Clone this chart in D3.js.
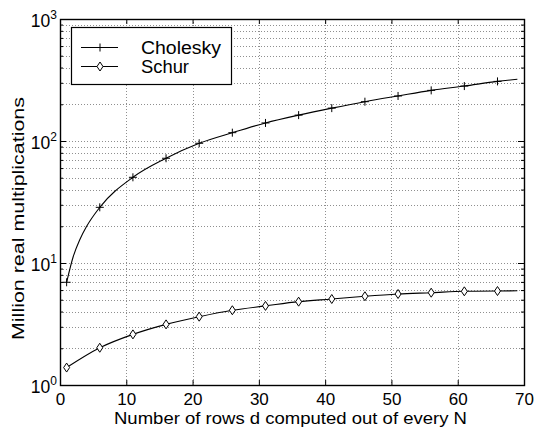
<!DOCTYPE html>
<html>
<head>
<meta charset="utf-8">
<script src="https://cdn.jsdelivr.net/npm/d3@7"></script>
<style>
  body { margin: 0; background: #fff; }
  svg { display: block; font-family: "Liberation Sans", Arial, Helvetica, sans-serif; }
</style>
</head>
<body>
<svg></svg>
<script>
const width = 536;
const height = 427;

// rows d computed out of every N; markers sit at d = 1, 6, 11, ... and the lines end at d = 69
const cholD = [1, 2, 3, 4, 6, 11, 16, 21, 26, 31, 36, 41, 46, 51, 56, 61, 66, 69];
const cholesky = [6.95, 11.3, 15.6, 19.9, 28.6, 50.4, 72.2, 95.8, 117, 140.6, 163, 186, 210, 234, 260, 282, 308, 321];
const schurD = [1, 6, 11, 16, 21, 26, 31, 36, 41, 46, 51, 56, 61, 66, 69];
const schur = [1.39, 2.02, 2.6, 3.14, 3.63, 4.1, 4.45, 4.82, 5.07, 5.34, 5.57, 5.71, 5.86, 5.89, 5.93];
const markerD = [1, 6, 11, 16, 21, 26, 31, 36, 41, 46, 51, 56, 61, 66];
const xTicks = [0, 10, 20, 30, 40, 50, 60, 70];
const yDecades = [1, 10, 100, 1000];
const legendNames = ["Cholesky", "Schur"];

const plotL = 60, plotR = 524, plotT = 19, plotB = 385;

const svg = d3.select("svg").attr("width", width).attr("height", height);

const xScale = d3.scaleLinear().domain([0, 70]).range([plotL, plotR]);
const yScale = d3.scaleLog().domain([1, 1000]).range([plotB, plotT]);

const yMinor = yScale.ticks().filter(v => !yDecades.includes(v));

// grid
const grid = svg.append("g").attr("stroke", "#8f8f8f").attr("stroke-width", 1).attr("stroke-dasharray", "1,2");
grid.selectAll(".gx").data(xTicks.slice(1, -1)).join("line")
  .attr("x1", d => Math.round(xScale(d)) + 0.5).attr("x2", d => Math.round(xScale(d)) + 0.5)
  .attr("y1", plotT).attr("y2", plotB);
grid.selectAll(".gy").data(yScale.ticks().filter(v => v > 1 && v < 1000)).join("line")
  .attr("x1", plotL).attr("x2", plotR)
  .attr("y1", d => Math.round(yScale(d)) + 0.5).attr("y2", d => Math.round(yScale(d)) + 0.5);

// axes (inward ticks, box all round)
const fmtNone = () => "";
svg.append("g").attr("transform", `translate(0,${plotB})`)
  .call(d3.axisBottom(xScale).tickValues(xTicks).tickSizeInner(-5).tickSizeOuter(0).tickPadding(8))
  .call(g => g.select(".domain").remove())
  .call(g => g.selectAll("text").attr("font-size", 17).attr("fill", "#000").attr("font-family", null));
svg.append("g").attr("transform", `translate(0,${plotT})`)
  .call(d3.axisTop(xScale).tickValues(xTicks).tickSizeInner(-5).tickSizeOuter(0).tickFormat(fmtNone))
  .call(g => g.select(".domain").remove());

const yAxisL = svg.append("g").attr("transform", `translate(${plotL},0)`)
  .call(d3.axisLeft(yScale).tickValues(yDecades).tickSizeInner(-6).tickSizeOuter(0).tickPadding(3).tickFormat(() => "10"))
  .call(g => g.select(".domain").remove());
yAxisL.selectAll("text").attr("font-size", 17.5).attr("fill", "#000").attr("font-family", null)
  .attr("dy", "0.42em")
  .append("tspan").attr("dy", -8).attr("font-size", 12).text(d => Math.round(Math.log10(d)));
svg.append("g").attr("transform", `translate(${plotL},0)`)
  .call(d3.axisLeft(yScale).tickValues(yMinor).tickSizeInner(-3).tickSizeOuter(0).tickFormat(fmtNone))
  .call(g => g.select(".domain").remove());
svg.append("g").attr("transform", `translate(${plotR},0)`)
  .call(d3.axisRight(yScale).tickValues(yDecades).tickSizeInner(-6).tickSizeOuter(0).tickFormat(fmtNone))
  .call(g => g.select(".domain").remove());
svg.append("g").attr("transform", `translate(${plotR},0)`)
  .call(d3.axisRight(yScale).tickValues(yMinor).tickSizeInner(-3).tickSizeOuter(0).tickFormat(fmtNone))
  .call(g => g.select(".domain").remove());

svg.append("rect").attr("x", plotL + 0.5).attr("y", plotT + 0.5)
  .attr("width", plotR - plotL).attr("height", plotB - plotT)
  .attr("fill", "none").attr("stroke", "#000").attr("stroke-width", 1.4);

// series
const line = d3.line().x(d => xScale(d[0])).y(d => yScale(d[1])).curve(d3.curveMonotoneX);
const series = [
  { name: "Cholesky", xs: cholD, values: cholesky, marker: "plus" },
  { name: "Schur", xs: schurD, values: schur, marker: "diamond" }
];

function drawMarker(g, type) {
  if (type === "plus") {
    g.append("path").attr("d", "M-4,0H4M0,-4V4").attr("stroke", "#000").attr("stroke-width", 1).attr("fill", "none");
  } else {
    g.append("path").attr("d", "M0,-4.5L3,0L0,4.5L-3,0Z").attr("stroke", "#000").attr("stroke-width", 1).attr("fill", "#fff");
  }
}

series.forEach(s => {
  const pts = s.xs.map((d, i) => [d, s.values[i]]);
  svg.append("path").datum(pts).attr("d", line)
    .attr("fill", "none").attr("stroke", "#000").attr("stroke-width", 1.1);
  svg.selectAll(null).data(pts.filter(p => markerD.includes(p[0]))).join("g")
    .attr("transform", p => `translate(${xScale(p[0])},${yScale(p[1])})`)
    .each(function () { drawMarker(d3.select(this), s.marker); });
});

// legend
const legend = svg.append("g");
legend.append("rect").attr("x", 71.5).attr("y", 27.5).attr("width", 160).attr("height", 57)
  .attr("fill", "#fff").attr("stroke", "#000").attr("stroke-width", 1.2);
series.forEach((s, i) => {
  const y = 47.5 + i * 19;
  legend.append("line").attr("x1", 81).attr("x2", 118).attr("y1", y).attr("y2", y)
    .attr("stroke", "#000").attr("stroke-width", 1.1);
  drawMarker(legend.append("g").attr("transform", `translate(100,${y})`), s.marker);
  legend.append("text").attr("x", 141).attr("y", y + 6).attr("font-size", 18)
    .attr("textLength", i === 0 ? 80 : 48).attr("lengthAdjust", "spacingAndGlyphs")
    .text(legendNames[i]);
});

// axis labels
svg.append("text").attr("x", 114).attr("y", 424)
  .attr("font-size", 16.5).attr("textLength", 353).attr("lengthAdjust", "spacingAndGlyphs")
  .text("Number of rows d computed out of every N");
svg.append("text").attr("transform", "translate(24,340) rotate(-90)")
  .attr("font-size", 17).attr("textLength", 243).attr("lengthAdjust", "spacingAndGlyphs")
  .text("Million real multiplications");
</script>
</body>
</html>
